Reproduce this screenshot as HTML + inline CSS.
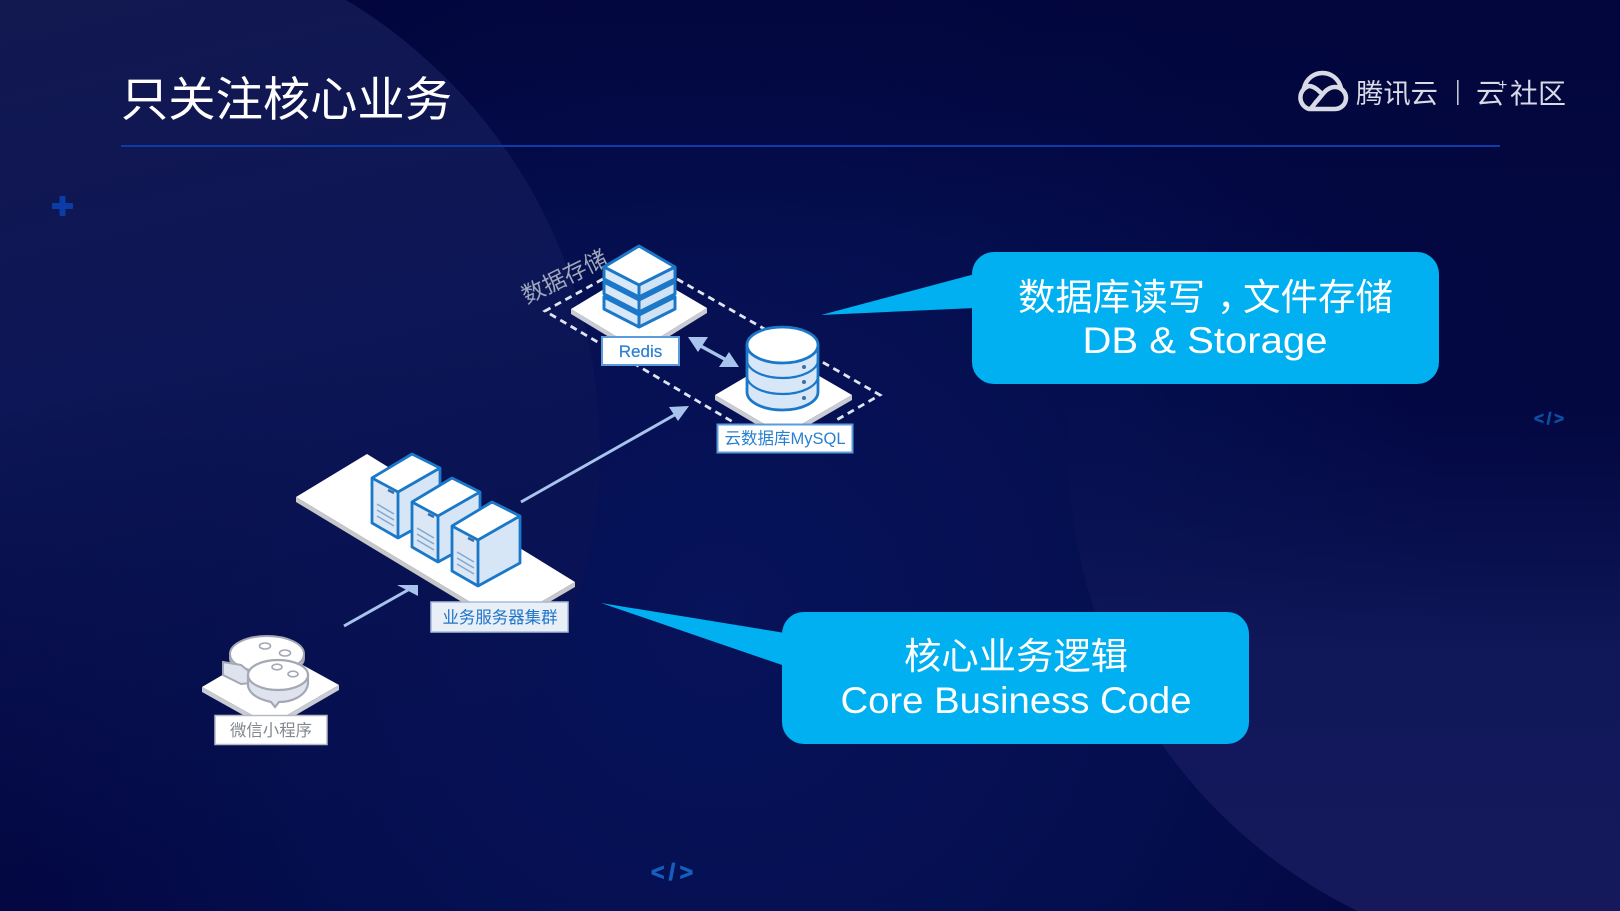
<!DOCTYPE html>
<html lang="zh"><head><meta charset="utf-8"><title>只关注核心业务</title>
<style>html,body{margin:0;padding:0;background:#02063a;width:1620px;height:911px;overflow:hidden}svg{display:block}
text{font-family:"Liberation Sans","Noto Sans CJK SC",sans-serif}</style></head>
<body>
<svg width="1620" height="911" viewBox="0 0 1620 911" xmlns="http://www.w3.org/2000/svg">
<defs>
<radialGradient id="bg" gradientUnits="userSpaceOnUse" cx="720" cy="620" r="920">
<stop offset="0" stop-color="#07135a"/><stop offset=".45" stop-color="#050f50"/><stop offset=".8" stop-color="#030843"/><stop offset="1" stop-color="#030840"/></radialGradient>
<linearGradient id="top" gradientUnits="userSpaceOnUse" x1="0" y1="0" x2="0" y2="260">
<stop offset="0" stop-color="#02053a" stop-opacity=".7"/><stop offset="1" stop-color="#02053a" stop-opacity="0"/></linearGradient>
<linearGradient id="cl" gradientUnits="userSpaceOnUse" x1="0" y1="0" x2="200" y2="850">
<stop offset="0" stop-color="#121850"/><stop offset=".45" stop-color="#0d1656"/><stop offset="1" stop-color="#0a1350" stop-opacity="0"/></linearGradient>
<linearGradient id="cr" gradientUnits="userSpaceOnUse" x1="1400" y1="400" x2="1400" y2="911">
<stop offset="0" stop-color="#0a1150" stop-opacity="0"/><stop offset=".5" stop-color="#10185a"/><stop offset="1" stop-color="#15195c"/></linearGradient>
<g id="srv">
<polygon points="492,502 520,516 478,540 452,526" fill="#fff"/>
<polygon points="452,526 478,540 478,586 452,571" fill="#dbe7f4"/>
<polygon points="478,540 520,516 520,563 478,586" fill="#d6e6f7"/>
<path d="M492,502 L520,516 L520,563 L478,586 L452,571 L452,526 Z M452,526 L478,540 L520,516 M478,540 V586" fill="none" stroke="#1b78c8" stroke-width="2.800" stroke-linejoin="round"/>
<path d="M457,552 L474,562 M457,558 L474,568 M457,564 L474,574" stroke="#7fa8d2" stroke-width="1.500" fill="none"/>
<path d="M468,538 L474,541" stroke="#3a6fa8" stroke-width="2.500" fill="none"/>
</g>
<g id="lay">
<polygon points="604,267 639,285 639,297 604,279" fill="#d9e8f8"/>
<polygon points="639,285 675,267 675,279 639,297" fill="#cfe2f6"/>
<path d="M604,267 L639,285 L675,267 L675,279 L639,297 L604,279 Z M639,285 V297" fill="none" stroke="#1b78c8" stroke-width="3" stroke-linejoin="round"/>
</g>
</defs>

<rect width="1620" height="911" fill="url(#bg)"/>
<rect width="1620" height="260" fill="url(#top)"/>
<path d="M0,0 H346 A523,523 0 0 1 320,911 H0 Z" fill="url(#cl)"/>
<path d="M1329.400,0 A515,515 0 0 0 1357.500,911 H1620 V0 Z" fill="url(#cr)"/>

<!-- header -->
<text x="121" y="116" font-size="47" fill="#ffffff" textLength="331" lengthAdjust="spacingAndGlyphs">只关注核心业务</text>
<rect x="121" y="145" width="1379" height="2" fill="#0d3caa"/>
<path d="M1309,109 H1335 A11,11 0 0 0 1335,87 C1326,87 1322,96 1316,102 C1313,106 1311,109 1309,109 A12,12 0 0 1 1309,86 C1313,86 1317,89 1320,92 M1304,88 C1309,68 1336,68 1341,88" fill="none" stroke="#d8dbe6" stroke-width="4.500" stroke-linecap="round" stroke-linejoin="round"/>
<text x="1356" y="103" font-size="27" fill="#d8dbe6" textLength="82" lengthAdjust="spacingAndGlyphs">腾讯云</text>
<rect x="1457" y="80" width="1.600" height="25" fill="#c0c5d4"/>
<text x="1476" y="103" font-size="28" fill="#d8dbe6">云</text>
<text x="1498" y="90" font-size="16" fill="#d8dbe6">+</text>
<text x="1510" y="103" font-size="27.500" fill="#d8dbe6" textLength="56" lengthAdjust="spacingAndGlyphs">社区</text>

<!-- deco -->
<rect x="52" y="203" width="21" height="6" rx="1" fill="#0a3da5"/><rect x="59.500" y="196" width="6" height="20" rx="1" fill="#0a3da5"/>
<text x="1534" y="424" font-size="17" font-weight="bold" fill="#0c4fa5" stroke="#0c4fa5" stroke-width=".6" textLength="30" lengthAdjust="spacing">&lt;/&gt;</text>
<text x="651" y="880" font-size="23" font-weight="bold" fill="#155fbc" stroke="#155fbc" stroke-width=".8" textLength="42" lengthAdjust="spacing">&lt;/&gt;</text>

<!-- dashed storage zone -->
<path d="M603,279 L545,311 L733,422 M677,279 L880,395 L833,422" fill="none" stroke="#dfe6f2" stroke-width="2.800" stroke-dasharray="7,5"/>
<text transform="translate(568,284) rotate(-26)" text-anchor="middle" font-size="23" fill="#a0a8bc">数据存储</text>

<!-- redis -->
<polygon points="571,309 639,350 707,308 707,313 639,355 571,314" fill="#c9ccd2"/>
<polygon points="639,268 707,308 639,350 571,309" fill="#ffffff"/>
<use href="#lay" y="30"/><use href="#lay" y="15"/>
<polygon points="639,246 675,267 639,285 604,267" fill="#fff"/>
<polygon points="604,267 639,285 639,297 604,279" fill="#d9e8f8"/>
<polygon points="639,285 675,267 675,279 639,297" fill="#cfe2f6"/>
<path d="M639,246 L675,267 L675,279 L639,297 L604,279 L604,267 Z M604,267 L639,285 L675,267 M639,285 V297" fill="none" stroke="#1b78c8" stroke-width="3" stroke-linejoin="round"/>
<rect x="602" y="337" width="77" height="28" fill="#fff" stroke="#5b9bdc" stroke-width="2"/>
<text x="640.500" y="357" font-size="17" text-anchor="middle" fill="#2a80d0" stroke="#2a80d0" stroke-width=".2">Redis</text>

<!-- mysql -->
<polygon points="715,395 783,355 852,395 783,435" fill="#fff"/>
<polygon points="715,395 783,435 852,395 852,400 783,440 715,400" fill="#c9ccd2"/>
<path d="M747,345 V392 A35.500,18 0 0 0 818,392 V345 Z" fill="#d8e7f8" stroke="#1b78c8" stroke-width="2.800"/>
<path d="M747,360 A35.500,18 0 0 0 818,360 M747,376 A35.500,18 0 0 0 818,376" fill="none" stroke="#1b78c8" stroke-width="2.200"/>
<ellipse cx="782.500" cy="345" rx="35.500" ry="18" fill="#fff" stroke="#1b78c8" stroke-width="2.800"/>
<circle cx="804" cy="367" r="2" fill="#3d6ea5"/><circle cx="804" cy="382" r="2" fill="#3d6ea5"/><circle cx="804" cy="398" r="2" fill="#3d6ea5"/>
<rect x="717.500" y="424.500" width="135" height="28" fill="#fff" stroke="#5b9bdc" stroke-width="2"/>
<text x="785" y="444" font-size="16.500" text-anchor="middle" fill="#2a80d0" textLength="121" lengthAdjust="spacingAndGlyphs">云数据库MySQL</text>

<!-- arrows -->
<path d="M697,344 L730,362" stroke="#a9c4ec" stroke-width="3.500"/>
<polygon points="688,337 708,337 698,352" fill="#a9c4ec"/>
<polygon points="739,367 719,367 729,352" fill="#a9c4ec"/>
<path d="M521,502 L678,413" stroke="#a9c4ec" stroke-width="3"/>
<polygon points="689,406 669,407 678,421" fill="#a9c4ec"/>
<path d="M344,626 L408,590" stroke="#a9c4ec" stroke-width="3"/>
<polygon points="418,585 397,585 418,596" fill="#a9c4ec"/>

<!-- servers -->
<polygon points="296,497 367,454 575,582 505,623" fill="#fff"/>
<polygon points="296,497 505,623 575,582 575,587 505,628 296,502" fill="#c7c8c8"/>
<use href="#srv" x="-80" y="-48"/><use href="#srv" x="-40" y="-24"/><use href="#srv"/>
<rect x="431" y="602" width="137" height="30" fill="#e9eff7" stroke="#a6bcd8" stroke-width="1.500"/>
<text x="500" y="623" font-size="16.400" text-anchor="middle" fill="#1f74c8" textLength="115" lengthAdjust="spacingAndGlyphs">业务服务器集群</text>

<!-- wechat -->
<polygon points="202,687 270,647 339,685 270,725" fill="#fff"/>
<polygon points="202,687 270,725 339,685 339,690 270,730 202,692" fill="#c9ccd2"/>
<ellipse cx="267" cy="658" rx="37" ry="18" fill="#dfe3ee" stroke="#a3a8b4" stroke-width="2"/>
<ellipse cx="267" cy="654" rx="37" ry="18" fill="#fff" stroke="#a3a8b4" stroke-width="2"/>
<polygon points="223,662 241,665 262,682 241,684 223,675" fill="#dfe3ee" stroke="#a3a8b4" stroke-width="2"/>
<path d="M248,676 V686 C250,696 262,700 271,702 L275,707 L279,702 C292,702 306,696 308,684 V675 Z" fill="#dfe3ee" stroke="#a3a8b4" stroke-width="2.200"/>
<ellipse cx="278" cy="675" rx="30" ry="15" fill="#fff" stroke="#a3a8b4" stroke-width="2.200"/>
<ellipse cx="265" cy="646" rx="5.500" ry="3" fill="none" stroke="#a3a8b4" stroke-width="1.600"/>
<ellipse cx="285" cy="653" rx="5.500" ry="3" fill="none" stroke="#a3a8b4" stroke-width="1.600"/>
<ellipse cx="277" cy="667" rx="5" ry="2.800" fill="none" stroke="#a3a8b4" stroke-width="1.600"/>
<ellipse cx="293" cy="674" rx="5" ry="2.800" fill="none" stroke="#a3a8b4" stroke-width="1.600"/>
<rect x="215" y="715.500" width="112" height="29" fill="#fff" stroke="#b5b9c4" stroke-width="1.500"/>
<text x="271" y="736" font-size="16.400" text-anchor="middle" fill="#83888f" textLength="82" lengthAdjust="spacingAndGlyphs">微信小程序</text>

<!-- callouts -->
<polygon points="821,315 975,274 975,308" fill="#00b0f0"/>
<rect x="972" y="252" width="467" height="132" rx="22" fill="#00b0f0"/>
<text x="1018" y="310" font-size="37" fill="#ffffff" textLength="187" lengthAdjust="spacingAndGlyphs">数据库读写</text>
<text x="1217" y="310" font-size="37" fill="#ffffff">，</text>
<text x="1243" y="310" font-size="37" fill="#ffffff" textLength="150" lengthAdjust="spacingAndGlyphs">文件存储</text>
<text x="1205" y="353" font-size="37" text-anchor="middle" fill="#ffffff" textLength="245" lengthAdjust="spacingAndGlyphs">DB &amp; Storage</text>

<polygon points="601,603 785,633 785,666" fill="#00b0f0"/>
<rect x="782" y="612" width="467" height="132" rx="22" fill="#00b0f0"/>
<text x="1016" y="669" font-size="37" text-anchor="middle" fill="#ffffff" textLength="224" lengthAdjust="spacingAndGlyphs">核心业务逻辑</text>
<text x="1016" y="713" font-size="37" text-anchor="middle" fill="#ffffff" textLength="351" lengthAdjust="spacingAndGlyphs">Core Business Code</text>
</svg>
</body></html>
